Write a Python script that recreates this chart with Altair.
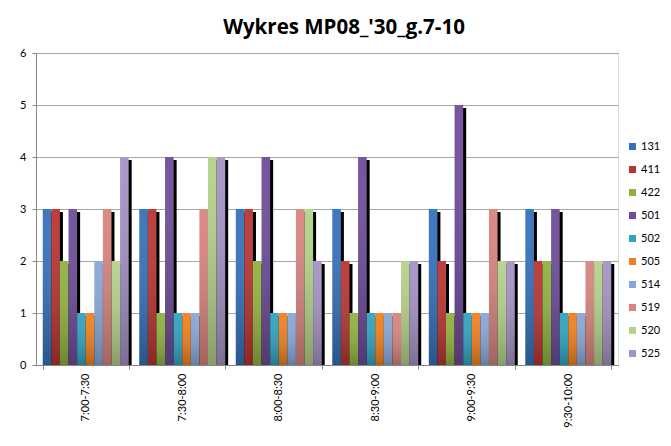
import altair as alt
import pandas as pd

categories = ["7:00-7:30", "7:30-8:00", "8:00-8:30", "8:30-9:00", "9:00-9:30", "9:30-10:00"]
series = ["131", "411", "422", "501", "502", "505", "514", "519", "520", "525"]
values = {
    "131": [3, 3, 3, 3, 3, 3],
    "411": [3, 3, 3, 2, 2, 2],
    "422": [2, 1, 2, 1, 1, 2],
    "501": [3, 4, 4, 4, 5, 3],
    "502": [1, 1, 1, 1, 1, 1],
    "505": [1, 1, 1, 1, 1, 1],
    "514": [2, 1, 1, 1, 1, 1],
    "519": [3, 3, 3, 1, 3, 2],
    "520": [2, 4, 3, 2, 2, 2],
    "525": [4, 4, 2, 2, 2, 2],
}
colors = ["#3471bb", "#b73532", "#8fb23f", "#6e4c98", "#2fa3bf",
          "#f0801f", "#87a7d8", "#d8847f", "#b5d18a", "#a592c4"]
title_text = "Wykres MP08_'30_g.7-10"

rows = []
for s in series:
    for c, v in zip(categories, values[s]):
        rows.append({"slot": c, "series": s, "value": v})
df = pd.DataFrame(rows)

x_enc = alt.X("slot:N", sort=categories, title=None,
              scale=alt.Scale(paddingInner=0.11, paddingOuter=0.07),
              axis=alt.Axis(labelAngle=-90, labelFont="Lato", labelFontSize=11,
                            labelColor="#000000", labelPadding=4,
                            domainColor="#868686", tickColor="#868686",
                            tickSize=4, tickBand="extent", grid=False))
xo_enc = alt.XOffset("series:N", sort=series, scale=alt.Scale(paddingInner=0, paddingOuter=0))
xo_shadow = alt.XOffset("series:N", sort=series,
                        scale=alt.Scale(paddingInner=0, paddingOuter=0,
                                        range=[3, alt.ExprRef("bandwidth('x') + 3")]))
y_enc = alt.Y("value:Q", title=None,
              scale=alt.Scale(domain=[0, 6], nice=False),
              axis=alt.Axis(values=[0, 1, 2, 3, 4, 5, 6], labelFont="Lato", labelFontSize=11,
                            labelColor="#000000", labelPadding=6,
                            domainColor="#868686", tickColor="#868686", tickSize=4,
                            gridColor="#a6a6a6", gridWidth=1))

base = alt.Chart(df)

shadow = base.mark_bar(color="#000000", yOffset=3, clip=True).encode(
    x=x_enc, xOffset=xo_shadow, y=y_enc
)

bars = base.mark_bar().encode(
    x=x_enc, xOffset=xo_enc, y=y_enc,
    color=alt.Color("series:N", sort=series,
                    scale=alt.Scale(domain=series, range=colors),
                    legend=alt.Legend(title=None, orient="none", legendX=591, legendY=88,
                                      symbolType="square", symbolSize=49,
                                      symbolStrokeWidth=0, labelFont="Lato",
                                      labelFontSize=11, labelColor="#000000",
                                      rowPadding=11, padding=0, labelOffset=3))
)

overlay = base.mark_bar(
    color=alt.Gradient(gradient="linear", x1=0, x2=0, y1=0, y2=1,
                       stops=[alt.GradientStop(color="rgba(255,255,255,0.05)", offset=0),
                              alt.GradientStop(color="rgba(0,0,0,0.25)", offset=1)])
).encode(x=x_enc, xOffset=xo_enc, y=y_enc)

chart = alt.layer(shadow, bars, overlay).resolve_scale(xOffset="independent").properties(
    width=582, height=312,
    title=alt.TitleParams(title_text, font="Open Sans", fontSize=20.5, fontWeight="bold",
                          color="#000000", anchor="middle", dx=17,
                          baseline="alphabetic", offset=-7),
    padding={"left": 28, "top": 45, "right": 45, "bottom": 73},
    autosize=alt.AutoSizeParams(type="none"),
).configure_view(stroke=None).configure(background="#ffffff")

chart.save("out.html", embed_options={"renderer": "svg", "actions": False})
